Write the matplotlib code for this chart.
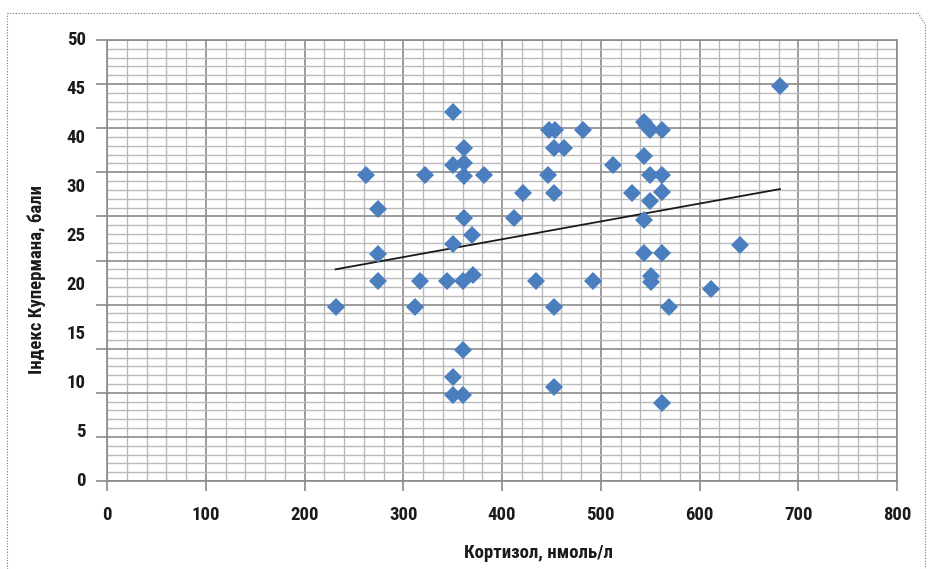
import numpy as np
import matplotlib
matplotlib.use("Agg")
import matplotlib.pyplot as plt
from matplotlib.lines import Line2D
from matplotlib import font_manager

# ---- data ----
cortisol = [231.5, 262.6, 274.3, 274.0, 274.0, 312.4, 316.5, 322.5, 343.8, 350.6,
            350.6, 350.6, 350.6, 350.6, 362.0, 362.0, 362.0, 362.0, 361.0, 361.0,
            361.0, 369.8, 371.0, 382.2, 411.8, 421.3, 434.5, 446.6, 447.2, 454.0,
            452.3, 453.0, 452.3, 452.3, 462.4, 482.0, 491.7, 512.0, 532.0, 543.3,
            543.3, 543.3, 543.3, 550.0, 550.0, 550.0, 550.7, 550.7, 561.9, 561.9,
            561.9, 561.9, 561.9, 569.3, 611.4, 641.0, 681.5, 547.0]
kuperman = [19.7, 34.7, 30.8, 25.7, 22.7, 19.7, 22.7, 34.7, 22.7, 41.8,
            35.8, 26.9, 11.8, 9.8, 37.7, 36.1, 34.6, 29.8, 22.7, 14.8,
            9.8, 27.9, 23.4, 34.7, 29.8, 32.7, 22.7, 34.7, 39.8, 39.8,
            37.7, 32.7, 19.7, 10.7, 37.7, 39.8, 22.7, 35.8, 32.7, 40.7,
            36.8, 29.6, 25.8, 39.8, 34.7, 31.7, 23.2, 22.6, 39.8, 34.7,
            32.8, 25.8, 8.8, 19.7, 21.8, 26.8, 44.8, 40.2]
trend_x = [231.5, 681.5]
trend_y = [24.0, 33.1]

x_ticks = [0, 100, 200, 300, 400, 500, 600, 700, 800]
y_grid = [0, 5, 10, 15, 20, 25, 30, 35, 40, 45, 50]
y_labels = ["50", "45", "40", "30", "25", "20", "15", "10", "5", "0"]

x_label = "Кортизол, нмоль/л"
y_label = "Індекс Купермана, бали"

# ---- font: look for a bold condensed face ----
def score(f):
    n = f.name.lower()
    s = 0
    if "narrow" in n or "condensed" in n or f.stretch in ("condensed", "semi-condensed",
                                                          "extra-condensed", 600, 700):
        s += 10
    else:
        return -1
    w = f.weight
    if w in ("bold", 700, "semibold", 600) or (isinstance(w, int) and w >= 600):
        s += 5
    if "italic" in str(f.style).lower() or "oblique" in str(f.style).lower():
        s -= 20
    if "liberation" in n:
        s += 3
    if "roboto" in n:
        s += 2
    return s

best = None
best_s = 0
for f in font_manager.fontManager.ttflist:
    sc = score(f)
    if sc > best_s:
        best, best_s = f, sc
if best is not None:
    tick_fp = font_manager.FontProperties(fname=best.fname, size=13.5)
    lab_fp = font_manager.FontProperties(fname=best.fname, size=13.5)
else:
    tick_fp = font_manager.FontProperties(family="DejaVu Sans", weight="bold", size=12)
    lab_fp = font_manager.FontProperties(family="DejaVu Sans", weight="bold", size=12.5)

fig = plt.figure(figsize=(9.3, 5.69), dpi=100)
ax = fig.add_axes([107 / 930, 1 - 481 / 569, 790 / 930, 441 / 569])

major_c = "#8a8a8a"
minor_c = "#bababa"

ax.set_xlim(0, 800)
ax.set_ylim(0, 50)
ax.set_xticks(x_ticks)
ax.set_xticklabels([str(v) for v in x_ticks])
for t in ax.get_xticklabels():
    t.set_fontproperties(tick_fp)
    t.set_color("#1a1a1a")
ax.set_xticks(np.arange(0, 801, 20), minor=True)
ax.set_yticks(y_grid)
ax.set_yticklabels([])
ax.set_yticks(np.arange(0, 51, 1), minor=True)

ax.tick_params(axis="x", which="major", direction="out", length=7, width=1.2,
               color=major_c, pad=11)
ax.tick_params(axis="y", which="major", direction="out", length=8, width=1.2,
               color=major_c)
ax.tick_params(which="minor", length=0)

ax.grid(which="major", color=major_c, linewidth=1.2)
ax.grid(which="minor", color=minor_c, linewidth=1.0)
ax.set_axisbelow(True)
for s in ax.spines.values():
    s.set_color(major_c)
    s.set_linewidth(1.2)

# y tick labels (placed as in the reference, evenly spaced)
label_pos = np.linspace(50, 0, len(y_labels))
for lab, yp in zip(y_labels, label_pos):
    ax.text(-0.027, yp, lab, transform=ax.get_yaxis_transform(), ha="right",
            va="center", fontproperties=tick_fp, color="#1a1a1a")

ax.plot(trend_x, trend_y, color="#1a1a1a", linewidth=1.3, zorder=3)
ax.plot(cortisol, kuperman, linestyle="none", marker="D", markersize=9.3,
        color="#4a7ebf", markeredgewidth=0, zorder=4)

fig.text(538 / 930, 1 - 553 / 569, x_label, ha="center", va="center",
         fontproperties=lab_fp, color="#1a1a1a")
fig.text(37 / 930, 1 - 280 / 569, y_label, ha="center", va="center",
         rotation=90, fontproperties=lab_fp, color="#1a1a1a")

# dotted page frame
def fl(xs, ys):
    fig.add_artist(Line2D([x / 930 for x in xs], [1 - y / 569 for y in ys],
                          transform=fig.transFigure, color="#777777",
                          linewidth=0.8, linestyle=(0, (1, 1.5))))
fl([7, 7], [569, 13])
fl([7, 918], [13, 13])
fl([918, 925], [13, 24])
fl([925, 925], [24, 569])

fig.savefig("out.png", dpi=100)
